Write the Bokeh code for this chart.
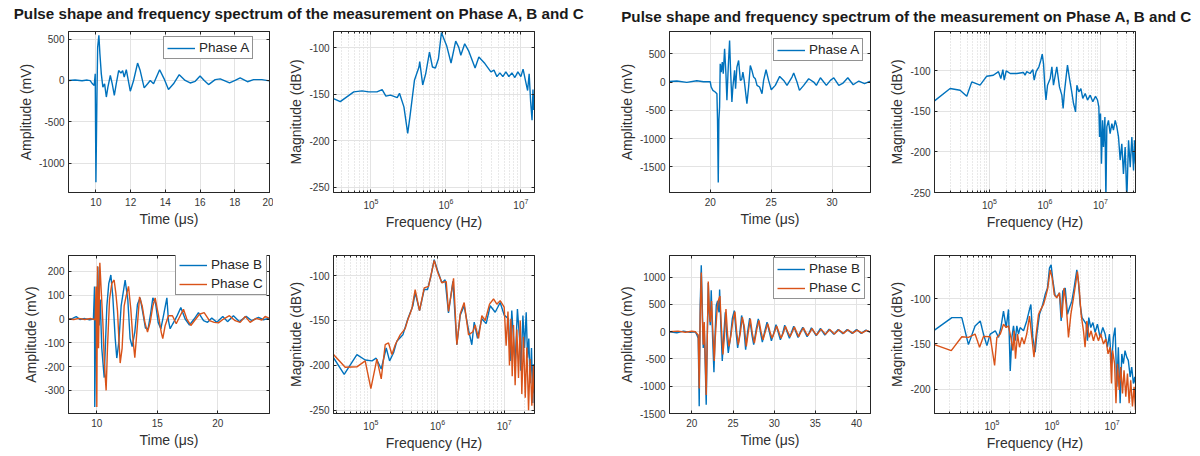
from bokeh.plotting import figure
from bokeh.models import (Range1d, SingleIntervalTicker, FixedTicker, LinearAxis,
                          Legend, LegendItem, Label, PrintfTickFormatter, CustomJSTickFormatter)
from bokeh.layouts import column, row
from bokeh.embed import file_html
from bokeh.resources import INLINE

TITLE = "Pulse shape and frequency spectrum of the measurement on Phase A, B and C"
LEG_A = "Phase A"
LEG_B = "Phase B"
LEG_C = "Phase C"
X_TIME = "Time (μs)"
X_FREQ = "Frequency (Hz)"
Y_AMP = "Amplitude (mV)"
Y_MAG = "Magnitude (dBV)"

# ---------------- left measurement ----------------
tA1 = [8.42, 8.8, 9.2, 9.5, 9.67, 9.8, 9.9, 9.96, 10.0, 10.06, 10.1, 10.17, 10.23, 10.31, 10.4,
       10.5, 10.6, 10.69, 10.83, 10.94, 11.06, 11.17, 11.31, 11.44, 11.54, 11.63, 11.75, 11.98,
       12.17, 12.4, 12.55, 12.78, 12.98, 13.13, 13.32, 13.67, 13.93, 14.18, 14.47, 14.8, 15.14,
       15.43, 15.72, 16.0, 16.24, 16.49, 16.87, 17.16, 17.7, 18.02, 18.31, 18.73, 19.08, 19.56, 20.0]
vA1 = [0, 6, -4, 5, -2, -40, -60, 80, -1230, -160, 400, 545, 320, 80, -80,
       -40, -200, -80, 60, -40, -180, -40, 120, 90, 120, 40, 130, -130,
       0, 210, 120, -90, -40, 0, -40, 130, 20, -110, -40, 70, 0,
       -30, -10, 55, 0, -50, 10, 20, -30, 0, 30, -15, 10, 10, -5]

fA1 = [3.16e4, 3.89e4, 5.89e4, 7.59e4, 9.33e4, 1.20e5, 1.41e5, 1.58e5, 1.82e5, 2.24e5,
       2.40e5, 2.75e5, 3.09e5, 3.31e5, 3.80e5, 4.37e5, 4.47e5, 4.90e5, 5.37e5, 6.03e5,
       6.61e5, 7.24e5, 7.94e5, 8.71e5, 9.55e5, 1.02e6, 1.17e6, 1.35e6, 1.48e6, 1.58e6,
       1.78e6, 2.0e6, 2.45e6, 2.75e6, 3.31e6, 3.98e6, 4.37e6, 4.79e6, 5.25e6, 5.75e6,
       6.31e6, 6.92e6, 7.59e6, 8.32e6, 9.12e6, 1.0e7, 1.07e7, 1.15e7, 1.23e7, 1.29e7,
       1.35e7, 1.41e7, 1.45e7, 1.48e7, 1.51e7]
dA1 = [-154.6, -158, -147.5, -146.4, -147.5, -147.5, -145, -152, -151, -153.6,
       -149, -163.6, -192, -174, -135, -120.7, -115, -140, -128, -104.6,
       -120.7, -121.8, -111.8, -83.6, -92, -97.5, -116.4, -92.9, -99.3, -108,
       -95.7, -103, -121.8, -110, -117, -126, -124, -131, -127, -131,
       -126, -131, -127, -132, -126, -131, -123, -135, -146, -128,
       -158, -178, -145, -167, -150]

tB1 = [7.66, 8.0, 8.3, 8.6, 9.0, 9.4, 9.72, 9.81, 9.83, 9.92, 10.0, 10.08, 10.19, 10.28, 10.41,
       10.61, 10.72, 10.83, 10.99, 11.16, 11.32, 11.52, 11.65, 11.82, 12.01, 12.34, 12.56, 12.75,
       12.92, 13.14, 13.36, 13.58, 13.8, 14.02, 14.24, 14.46, 14.63, 14.85, 15.07, 15.29, 15.51,
       15.79, 15.92, 16.06, 16.28, 16.61, 16.94, 17.3, 17.66, 18.04, 18.4, 18.82, 19.15, 19.5,
       19.92, 20.41, 20.8, 21.29, 21.79, 22.34, 22.81, 23.36, 23.77, 24.27]
vB1 = [0, 3, 10, -2, 2, -3, 0, 137, -370, 55, -40, 220, -27, 82, -123,
       -246, -96, 55, 150, 185, 96, -82, -164, -96, 55, 164, 82, -82,
       -116, -55, 62, 89, 27, -38, -41, 27, 89, 68, -14, -41, 14,
       89, -7, -41, -20, 11, 48, 0, -25, 0, 27, -7, -14, 4,
       -14, 11, -11, 14, -11, 11, -7, 7, -3, 4]
tC1 = [7.66, 8.1, 8.5, 9.0, 9.5, 9.86, 9.94, 10.0, 10.06, 10.14, 10.25, 10.36, 10.5, 10.63, 10.77,
       10.88, 11.05, 11.24, 11.43, 11.57, 11.71, 11.85, 11.93, 12.09, 12.26, 12.42, 12.62, 12.81,
       12.98, 13.14, 13.31, 13.53, 13.75, 13.97, 14.19, 14.41, 14.63, 14.82, 15.1, 15.32, 15.45,
       15.65, 15.92, 16.25, 16.56, 16.89, 17.16, 17.44, 17.77, 18.13, 18.48, 18.87, 19.31, 19.7,
       20.05, 20.47, 20.96, 21.43, 21.85, 22.26, 22.67, 23.17, 23.64, 23.91, 24.27]
vC1 = [0, -2, 3, -2, 2, -3, 137, -370, 222, -123, 236, 123, -14, -192, -300,
       -123, 82, 150, 164, 110, 34, -110, -185, -123, 55, 96, 137, 41,
       -82, -162, -55, 93, 55, -14, -55, -14, 55, 89, 14, -55, -82,
       -27, 14, 14, -20, 14, 41, 0, -27, -3, 20, 27, -7, -14,
       -16, 0, 14, -7, -14, 11, -14, 3, -4, 11, 3]

fB1 = [2.75e4, 3.98e4, 6.17e4, 8.22e4, 1.04e5, 1.20e5, 1.43e5, 1.70e5, 1.91e5, 2.19e5,
       2.45e5, 3.02e5, 3.59e5, 4.27e5, 4.62e5, 5.37e5, 6.31e5, 7.08e5, 7.94e5, 8.91e5,
       1.0e6, 1.16e6, 1.30e6, 1.46e6, 1.70e6, 1.95e6, 2.19e6, 2.51e6, 2.92e6, 3.27e6,
       3.55e6, 3.98e6, 4.62e6, 5.37e6, 6.17e6, 7.33e6, 8.71e6, 1.0e7, 1.16e7, 1.23e7,
       1.30e7, 1.38e7, 1.46e7, 1.58e7, 1.70e7, 1.78e7, 1.91e7, 2.02e7, 2.14e7, 2.24e7,
       2.34e7, 2.45e7, 2.57e7, 2.69e7, 2.75e7, 2.85e7]
dB1 = [-191.4, -210, -188, -194, -195, -192, -204, -180.6, -195, -186,
       -173, -166, -148, -133.6, -119, -139, -115.5, -115.5, -101, -82.3,
       -94, -108, -104.7, -141.6, -106.5, -177, -144, -133.6, -160.7, -177,
       -151.7, -170, -148, -153.5, -133.6, -140.8, -130, -144, -148, -195,
       -139, -170, -198.7, -137.2, -170, -206, -144.5, -180.6, -140.8, -191.4,
       -170, -220, -180.6, -242, -198.7, -231]
fC1 = [2.75e4, 4.12e4, 6.17e4, 8.22e4, 1.0e5, 1.23e5, 1.43e5, 1.64e5, 1.84e5, 2.07e5,
       2.32e5, 2.75e5, 3.27e5, 3.55e5, 4.12e5, 4.62e5, 5.37e5, 6.31e5, 7.33e5, 8.91e5,
       1.0e6, 1.16e6, 1.35e6, 1.46e6, 1.74e6, 1.95e6, 2.19e6, 2.51e6, 2.92e6, 3.39e6,
       3.67e6, 4.12e6, 4.62e6, 5.19e6, 6.03e6, 6.92e6, 7.76e6, 8.71e6, 1.0e7, 1.07e7,
       1.14e7, 1.20e7, 1.26e7, 1.32e7, 1.38e7, 1.46e7, 1.55e7, 1.64e7, 1.74e7, 1.84e7,
       1.95e7, 2.07e7, 2.19e7, 2.32e7, 2.45e7, 2.60e7, 2.75e7, 2.85e7]
dC1 = [-187.8, -202, -201.6, -195, -225.8, -193, -215, -177, -175, -187.8,
       -177, -166, -159, -150, -137, -115.5, -139, -113.7, -112, -83,
       -95.7, -108, -106.5, -140, -103, -177, -142.6, -130, -166, -162.5,
       -155, -170, -144.5, -150, -131.8, -126, -131.8, -128, -135, -178,
       -140, -200, -148, -212, -155, -222, -160, -214, -150, -232,
       -168, -236, -180, -250, -193, -245, -200, -250]

# ---------------- right measurement ----------------
tA2 = [16.66, 17.26, 18.08, 18.9, 19.45, 20.0, 20.08, 20.22, 20.41, 20.55, 20.6, 20.66, 20.71,
       20.77, 20.82, 20.9, 20.99, 21.07, 21.18, 21.29, 21.37, 21.48, 21.59, 21.67, 21.78, 21.86,
       22.0, 22.08, 22.19, 22.33, 22.47, 22.58, 22.68, 22.79, 23.01, 23.15, 23.29, 23.42, 23.56,
       23.7, 23.84, 24.05, 24.25, 24.38, 24.58, 24.79, 25.01, 25.34, 25.7, 26.03, 26.3, 26.71,
       26.85, 27.12, 27.32, 27.67, 28.08, 28.49, 28.71, 29.04, 29.53, 29.86, 30.14, 30.55, 30.9,
       31.29, 31.73, 32.19, 32.66, 33.15]
vA2 = [12, 18, -6, 24, 6, 6, -88, -147, -176, -206, -676, -1776, -676,
       -441, 323, 176, 353, 147, 588, 147, -323, 265, 735, 206, -353, -88,
       206, -118, 265, 382, 29, 41, 176, 29, -382, -88, 294, 206, 88,
       59, -59, -88, -206, 29, 218, 29, -135, -59, 100, 29, -59, 88,
       159, 0, -147, -59, 59, 0, -59, 76, -59, 29, 76, -59, -18,
       76, -47, 18, -29, 18]

fA2 = [1.02e4, 1.95e4, 2.95e4, 3.89e4, 4.79e4, 6.76e4, 8.91e4, 1.17e5, 1.45e5, 1.60e5,
       1.74e5, 1.84e5, 2.0e5, 2.36e5, 3.10e5, 4.07e5, 4.37e5, 4.68e5, 5.37e5, 6.03e5,
       6.38e5, 6.92e5, 7.76e5, 8.41e5, 8.91e5, 9.40e5, 9.93e5, 1.04e6, 1.11e6, 1.24e6,
       1.33e6, 1.42e6, 1.52e6, 1.63e6, 1.82e6, 2.01e6, 2.12e6, 2.24e6, 2.40e6, 2.54e6,
       2.76e6, 3.0e6, 3.26e6, 3.55e6, 3.75e6, 4.07e6, 4.43e6, 4.79e6, 5.30e6, 5.83e6,
       6.52e6, 7.28e6, 8.13e6, 8.83e6, 9.33e6, 9.60e6, 1.0e7, 1.04e7, 1.09e7, 1.13e7,
       1.20e7, 1.25e7, 1.30e7, 1.39e7, 1.49e7, 1.60e7, 1.71e7, 1.84e7, 1.97e7, 2.11e7,
       2.26e7, 2.42e7, 2.59e7, 2.78e7, 2.98e7, 3.20e7, 3.43e7, 3.67e7, 3.94e7, 4.10e7, 4.27e7]
dA2 = [-137, -121.8, -124, -131.3, -113.6, -117.7, -106.6, -105.4, -101, -109.5,
       -98.4, -111.5, -100, -103.3, -103.3, -102, -105.4, -101, -103.3, -98.4,
       -111.5, -101, -95, -86.8, -79.4, -91, -119.8, -136, -117.7, -109.5,
       -95, -117.7, -106.6, -95, -119.8, -130, -146.5, -126, -107.4, -93,
       -109.5, -124, -140, -150.7, -117.7, -126, -121.8, -134, -128, -136,
       -130, -138, -131.3, -136, -144.5, -181.6, -152.7, -214.5, -161, -194,
       -157, -258, -169, -161, -177.5, -165, -173, -161, -169, -181.6,
       -210, -190, -227, -194, -258, -185.7, -218.7, -181.6, -222.8, -185.7, -214.5]

tB2 = [17.28, 18.17, 18.99, 19.8, 20.41, 20.61, 20.77, 20.89, 21.01, 21.14, 21.26, 21.38, 21.5,
       21.62, 21.74, 21.87, 21.99, 22.11, 22.23, 22.35, 22.52, 22.68, 22.8, 22.96, 23.12, 23.29,
       23.37, 23.53, 23.69, 23.85, 24.06, 24.26, 24.42, 24.67, 24.91, 25.15, 25.36, 25.56, 25.8,
       26.04, 26.29, 26.53, 26.77, 27.02, 27.3, 27.51, 27.83, 28.07, 28.32, 28.56, 28.84, 29.13,
       29.41, 29.66, 29.94, 30.22, 30.47, 30.75, 31.03, 31.28, 31.56, 31.85, 32.13, 32.37, 32.66,
       32.9, 33.18, 33.47, 33.75, 34.0, 34.28, 34.52, 34.81, 35.09, 35.62, 36.15, 36.67, 37.24,
       37.77, 38.34, 38.86, 39.47, 40.0, 40.57, 41.14, 41.7]
vB2 = [0, -18, 12, -12, 0, -60, -119, -1369, 476, 1220, 476, -298, 89,
       -595, -1339, -119, 893, 357, 119, 762, -119, -744, -119, 476, 565, 357,
       774, 60, -536, -119, 357, -119, -387, -119, 238, 387, 0, -298, -60,
       298, 119, -327, 0, 250, -60, -238, 60, 238, 0, -190, 0, 178,
       0, -167, -30, 131, 0, -149, -30, 119, 0, -119, 0, 101, -12,
       -107, 0, 83, -12, -89, -12, 71, 0, -71, 60, -60, 48, -48,
       42, -36, 42, -30, 42, -30, 30, -12]
tC2 = [17.28, 18.3, 19.2, 20.0, 20.41, 20.77, 20.89, 21.01, 21.14, 21.26, 21.38, 21.5, 21.62,
       21.74, 21.87, 21.99, 22.11, 22.23, 22.39, 22.56, 22.72, 22.84, 23.04, 23.2, 23.41, 23.57,
       23.77, 23.94, 24.14, 24.34, 24.5, 24.75, 24.99, 25.23, 25.44, 25.64, 25.88, 26.13, 26.37,
       26.61, 26.86, 27.1, 27.34, 27.59, 27.91, 28.15, 28.4, 28.64, 28.92, 29.21, 29.49, 29.74,
       30.02, 30.3, 30.55, 30.83, 31.12, 31.36, 31.64, 31.93, 32.21, 32.45, 32.74, 32.98, 33.27,
       33.55, 33.83, 34.08, 34.36, 34.6, 34.89, 35.17, 35.7, 36.23, 36.75, 37.32, 37.85, 38.42,
       38.95, 39.55, 40.08, 40.65, 41.22, 41.7]
vC2 = [0, 12, -10, 8, 0, -60, -1042, 298, 1089, 298, -238, 178, -476,
       -1161, -119, 923, 417, 178, 565, -60, -536, -119, 357, 565, 655, 119,
       -417, -119, 417, -60, -268, -60, 208, 369, 0, -238, -30, 268, 89,
       -268, 0, 238, -30, -208, 60, 208, 0, -149, 0, 149, 0, -119,
       -12, 107, 0, -119, -18, 101, 0, -89, 0, 89, -12, -89, 0,
       71, -12, -71, -6, 60, -12, -60, 48, -48, 42, -42, 36, -30,
       36, -24, 30, -24, 24, -6]

fB2 = [1.11e4, 2.16e4, 3.16e4, 4.07e4, 5.25e4, 6.40e4, 7.24e4, 8.26e4, 9.38e4, 1.14e5,
       1.29e5, 1.41e5, 1.56e5, 1.73e5, 1.89e5, 2.02e5, 2.15e5, 2.29e5, 2.44e5, 2.60e5,
       2.77e5, 2.95e5, 3.36e5, 3.80e5, 4.23e5, 4.45e5, 4.79e5, 5.25e5, 5.60e5, 6.19e5,
       6.76e5, 7.24e5, 7.69e5, 8.41e5, 9.08e5, 9.68e5, 1.03e6, 1.13e6, 1.23e6, 1.33e6,
       1.42e6, 1.51e6, 1.66e6, 1.81e6, 1.95e6, 2.14e6, 2.33e6, 2.59e6, 2.75e6, 2.94e6,
       3.16e6, 3.43e6, 3.70e6, 3.89e6, 4.09e6, 4.42e6, 4.79e6, 5.21e6, 5.70e6, 6.31e6,
       7.0e6, 7.65e6, 8.36e6, 9.03e6, 9.77e6, 1.05e7, 1.12e7, 1.20e7, 1.27e7, 1.36e7,
       1.45e7, 1.54e7, 1.64e7, 1.75e7, 1.86e7, 2.0e7, 2.12e7, 2.26e7, 2.38e7, 2.45e7]
dB2 = [-134.7, -120.8, -120.8, -150.7, -130, -124.5, -139, -151.8, -139, -135.4,
       -142.7, -131.8, -113.5, -131.8, -111.7, -180, -142.7, -130, -146.4, -130,
       -139, -131.8, -135.4, -124.5, -111.7, -106.2, -142.7, -159, -139, -117.2,
       -109.9, -102.6, -95.3, -88, -66, -62.4, -78.8, -97, -97, -93.4,
       -124.5, -91.6, -88, -117.2, -109.9, -102.6, -88, -67.9, -80.7, -106.2,
       -120.8, -124.5, -128.1, -146.4, -120.8, -131.8, -126.3, -137.2, -128.1, -142.7,
       -131.8, -139, -153.6, -139, -171.9, -142.7, -131.8, -197.4, -153.6, -215.7,
       -161, -171.9, -157.3, -164.6, -168.2, -186.5, -175.5, -193.8, -186.5, -193.8]
fC2 = [1.11e4, 2.11e4, 3.16e4, 4.07e4, 5.25e4, 6.24e4, 7.24e4, 9.38e4, 1.11e5, 1.21e5,
       1.38e5, 1.56e5, 1.73e5, 1.89e5, 2.07e5, 2.24e5, 2.35e5, 2.47e5, 2.67e5, 2.88e5,
       3.16e5, 3.44e5, 3.80e5, 4.23e5, 4.62e5, 5.01e5, 5.46e5, 5.97e5, 6.52e5, 7.24e5,
       7.91e5, 8.51e5, 9.33e5, 1.01e6, 1.09e6, 1.20e6, 1.33e6, 1.46e6, 1.59e6, 1.72e6,
       1.88e6, 2.06e6, 2.28e6, 2.51e6, 2.65e6, 2.86e6, 3.05e6, 3.34e6, 3.55e6, 3.80e6,
       4.15e6, 4.47e6, 4.90e6, 5.35e6, 5.93e6, 6.46e6, 7.18e6, 7.85e6, 8.57e6, 9.27e6,
       9.77e6, 1.02e7, 1.10e7, 1.16e7, 1.23e7, 1.31e7, 1.39e7, 1.49e7, 1.58e7, 1.69e7,
       1.80e7, 1.92e7, 2.04e7, 2.18e7, 2.32e7, 2.45e7]
dC2 = [-150.7, -157.3, -142, -142.7, -139, -153.6, -141.6, -142, -173.7, -142.7,
       -139, -128.1, -131.8, -130, -142.7, -157.3, -135.4, -166.4, -139, -153.6,
       -142.7, -150, -139, -119, -142.7, -164.6, -139, -117.2, -111.7, -106.2,
       -97, -88, -67.9, -77, -95.3, -98.9, -93.4, -120.8, -88, -106.2,
       -142.7, -117.2, -98.9, -80.7, -69.7, -91.6, -117.2, -135.4, -153.6, -124.5,
       -142.7, -135.4, -146.4, -137.2, -146.4, -139, -150, -144.5, -161, -153.6,
       -193.8, -157.3, -171.9, -215.7, -171.9, -201, -175.5, -204.7, -179.2, -208.4,
       -182.8, -215.7, -190.1, -219.3, -197.4, -223]

# ---------------- styling ----------------
BLUE = "#0072BD"
ORANGE = "#D95319"
AXC = "#262626"
TICK_TXT = "#363636"
LBL_TXT = "#303030"
FONT = "Liberation Sans"
GRID = "#e3e3e3"
MGRID = "#d2d2d2"
LW = 1.4

LOG_MAJOR = [1e3, 1e4, 1e5, 1e6, 1e7, 1e8]
LOG_MINOR = [m * 10 ** k for k in range(3, 8) for m in range(2, 10)]


def style_axis(ax):
    ax.axis_line_color = AXC
    ax.major_tick_line_color = AXC
    ax.minor_tick_line_color = AXC
    ax.major_tick_in = 3
    ax.major_tick_out = 0
    ax.minor_tick_in = 0
    ax.minor_tick_out = 0
    ax.major_label_text_font = FONT
    ax.major_label_text_font_size = "10px"
    ax.major_label_text_color = TICK_TXT
    ax.axis_label_text_font = FONT
    ax.axis_label_text_font_size = "14px"
    ax.axis_label_text_font_style = "normal"
    ax.axis_label_text_color = LBL_TXT


def hidden_axis(ticker, log):
    ax = LinearAxis(ticker=ticker, formatter=CustomJSTickFormatter(code="return ''"))
    style_axis(ax)
    ax.major_label_standoff = 0
    if log:
        ax.minor_tick_in = 2
    return ax


def make_fig(w, h, mb, xr, yr, xstep, ystep, xlabel, ylabel, log=False):
    mbl, mbr, mbt, mbb = mb
    p = figure(width=w, height=h, x_range=Range1d(*xr), y_range=Range1d(*yr),
               x_axis_type="log" if log else "linear",
               toolbar_location=None, output_backend="svg",
               min_border_left=mbl, min_border_right=mbr,
               min_border_top=mbt, min_border_bottom=mbb)
    if log:
        xt = FixedTicker(ticks=LOG_MAJOR, minor_ticks=LOG_MINOR)
    else:
        xt = SingleIntervalTicker(interval=xstep, num_minor_ticks=0)
    yt = SingleIntervalTicker(interval=ystep, num_minor_ticks=0)
    p.xaxis.ticker = xt
    p.xgrid.ticker = xt
    p.yaxis.ticker = yt
    p.ygrid.ticker = yt
    xa = p.xaxis[0]
    ya = p.yaxis[0]
    style_axis(xa)
    style_axis(ya)
    if not log:
        xa.formatter = PrintfTickFormatter(format="%d")
    ya.formatter = PrintfTickFormatter(format="%d")
    xa.axis_label = xlabel
    ya.axis_label = ylabel
    xa.major_label_standoff = 5
    xa.axis_label_standoff = 2
    ya.major_label_standoff = 4
    ya.axis_label_standoff = 2
    if log:
        xa.minor_tick_in = 2
    p.add_layout(hidden_axis(xt, log), "above")
    p.add_layout(hidden_axis(yt, False), "right")
    p.xgrid.grid_line_color = GRID
    p.ygrid.grid_line_color = GRID
    if log:
        p.xgrid.minor_grid_line_color = MGRID
        p.xgrid.minor_grid_line_dash = "1 2"
    p.outline_line_color = AXC
    p.outline_line_width = 1
    p.background_fill_color = "white"
    p.border_fill_color = "white"
    return p


def add_line(p, x, y, color):
    n = min(len(x), len(y))
    return p.line(list(x[:n]), list(y[:n]), line_color=color, line_width=LW)


def add_legend(p, items, loc):
    leg = Legend(items=[LegendItem(label=l, renderers=[r]) for l, r in items],
                 location=loc, orientation="vertical")
    leg.label_text_font = FONT
    leg.label_text_font_size = "13.5px"
    leg.label_text_color = "#262626"
    leg.border_line_color = AXC
    leg.border_line_width = 1
    leg.background_fill_color = "white"
    leg.background_fill_alpha = 1
    leg.padding = 3
    leg.spacing = 4
    leg.margin = 0
    leg.glyph_width = 28
    leg.glyph_height = 14
    leg.label_height = 14
    leg.label_standoff = 4
    p.add_layout(leg)


H1, H2 = 214, 213
MB1_T = (68, 4, 5, 48)
MB1_F = (60, 75, 5, 48)
MB2_T = (68, 4, 15, 36)
MB2_F = (60, 75, 15, 36)
MB1_T2 = (60, 4, 5, 48)
MB1_F2 = (60, 50, 5, 48)
MB2_T2 = (60, 4, 15, 36)
MB2_F2 = (60, 50, 15, 36)

# Left group
p1 = make_fig(273, H1, MB1_T, (8.42, 20.0), (-1354, 592), 2, 500, X_TIME, Y_AMP)
r = add_line(p1, tA1, vA1, BLUE)
add_legend(p1, [(LEG_A, r)], (95, 133))

p2 = make_fig(336, H1, MB1_F, (3.16e4, 1.52e7), (-255.7, -82.5), None, 50, X_FREQ, Y_MAG, log=True)
add_line(p2, fA1, dA1, BLUE)

p3 = make_fig(273, H2, MB2_T, (7.66, 24.27), (-397, 267), 5, 100, X_TIME, Y_AMP)
rb = add_line(p3, tB1, vB1, BLUE)
rc = add_line(p3, tC1, vC1, ORANGE)
add_legend(p3, [(LEG_B, rb), (LEG_C, rc)], (107, 118))

p4 = make_fig(336, H2, MB2_F, (2.75e4, 2.85e7), (-253.6, -77.6), None, 50, X_FREQ, Y_MAG, log=True)
add_line(p4, fB1, dB1, BLUE)
add_line(p4, fC1, dC1, ORANGE)

# Right group
p5 = make_fig(265, H1, MB1_T2, (16.66, 33.15), (-1953, 894), 5, 500, X_TIME, Y_AMP)
r = add_line(p5, tA2, vA2, BLUE)
add_legend(p5, [(LEG_A, r)], (104, 131))

p6 = make_fig(311, H1, MB1_F2, (1.02e4, 4.27e7), (-250, -51.5), None, 50, X_FREQ, Y_MAG, log=True)
add_line(p6, fA2, dA2, BLUE)

p7 = make_fig(265, H2, MB2_T2, (17.28, 41.7), (-1500, 1399), 5, 500, X_TIME, Y_AMP)
rb = add_line(p7, tB2, vB2, BLUE)
rc = add_line(p7, tC2, vC2, ORANGE)
add_legend(p7, [(LEG_B, rb), (LEG_C, rc)], (104, 114))

p8 = make_fig(311, H2, MB2_F2, (1.11e4, 2.45e7), (-227, -52), None, 50, X_FREQ, Y_MAG, log=True)
add_line(p8, fB2, dB2, BLUE)
add_line(p8, fC2, dC2, ORANGE)

# Title strip
tf = figure(width=1198, height=26, x_range=Range1d(0, 1198), y_range=Range1d(0, 26),
            toolbar_location=None, output_backend="svg", min_border=0,
            x_axis_location=None, y_axis_location=None)
tf.grid.visible = False
tf.outline_line_color = None
for xx, yy in ((298.5, 13.5), (906, 10)):
    tf.add_layout(Label(x=xx, y=yy, text=TITLE, text_align="center", text_baseline="middle",
                        text_font=FONT, text_font_size="15.2px", text_font_style="bold",
                        text_color="#1a1a1a"))

layout = column(tf, row(p1, p2, p5, p6), row(p3, p4, p7, p8))

with open("out.html", "w") as fh:
    fh.write(file_html(layout, INLINE, title="Pulse shape and frequency spectrum"))
